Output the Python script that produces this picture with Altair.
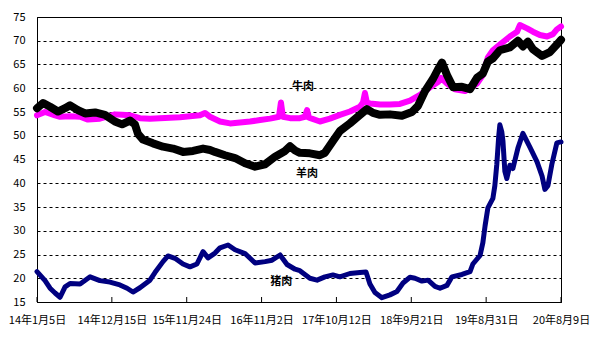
import altair as alt
import pandas as pd

START = pd.Timestamp("2014-01-05")

# day offsets from 2014-01-05 and prices (元/公斤)
beef_days = [0, 37, 83, 106, 152, 198, 234, 289, 358, 391, 427, 473, 519, 565, 657, 749, 772, 795,
             841, 887, 933, 979, 1025, 1071, 1112, 1121, 1130, 1163, 1208, 1231, 1241, 1250, 1300,
             1346, 1392, 1438, 1484, 1498, 1507, 1516, 1530, 1576, 1622, 1668, 1714, 1760, 1806,
             1843, 1856, 1884, 1921, 1967, 1990, 2022, 2049, 2072, 2095, 2127, 2173, 2206, 2219,
             2252, 2279, 2311, 2344, 2371, 2389, 2408]
beef_vals = [54.3, 55.0, 54.3, 54.0, 54.1, 54.0, 53.4, 53.6, 54.5, 54.4, 54.3, 53.7, 53.6, 53.7, 53.9,
             54.3, 54.8, 54.0, 53.0, 52.6, 52.8, 53.0, 53.3, 53.6, 54.0, 57.0, 54.0, 53.7, 53.7, 54.0,
             55.4, 53.8, 53.0, 53.6, 54.4, 55.1, 56.1, 57.0, 59.0, 57.0, 56.8, 56.6, 56.6, 56.7, 57.4,
             58.6, 60.2, 61.3, 62.2, 61.0, 59.8, 59.4, 60.0, 61.0, 62.8, 66.5, 68.0, 69.2, 70.9, 71.9,
             73.3, 72.6, 71.9, 71.2, 70.9, 71.4, 72.4, 73.0]

mutton_days = [0, 28, 60, 96, 129, 152, 188, 221, 267, 312, 358, 391, 427, 450, 464, 487, 533, 579,
               625, 671, 717, 763, 795, 818, 864, 910, 956, 1002, 1048, 1094, 1140, 1163, 1186, 1208,
               1254, 1300, 1323, 1360, 1392, 1438, 1484, 1516, 1544, 1576, 1622, 1677, 1723, 1751,
               1783, 1820, 1843, 1861, 1884, 1912, 1953, 1990, 2022, 2049, 2072, 2095, 2127, 2173,
               2210, 2233, 2256, 2279, 2321, 2357, 2389, 2408]
mutton_vals = [55.8, 56.9, 56.1, 55.1, 55.8, 56.4, 55.4, 54.7, 54.9, 54.4, 53.0, 52.4, 53.2, 52.4, 50.4,
               49.2, 48.4, 47.7, 47.3, 46.6, 46.8, 47.3, 47.0, 46.6, 45.9, 45.3, 44.2, 43.5, 44.0, 45.6,
               46.8, 47.8, 46.9, 46.4, 46.3, 45.9, 46.4, 48.9, 51.0, 52.6, 54.4, 55.6, 54.8, 54.4, 54.5,
               54.2, 55.0, 56.3, 59.4, 62.0, 64.0, 65.4, 62.8, 60.2, 60.3, 59.8, 62.2, 63.1, 65.6, 66.3,
               68.0, 68.6, 70.0, 68.8, 69.8, 68.2, 66.8, 67.6, 69.2, 70.2]

pork_days = [0, 37, 60, 83, 106, 129, 152, 198, 244, 289, 335, 381, 414, 441, 473, 519, 542, 579, 602,
             634, 671, 703, 735, 763, 786, 818, 841, 878, 910, 956, 1002, 1048, 1080, 1117, 1149,
             1186, 1208, 1254, 1287, 1323, 1360, 1392, 1438, 1484, 1512, 1530, 1553, 1585, 1622,
             1654, 1682, 1714, 1737, 1769, 1797, 1829, 1852, 1884, 1907, 1953, 1990, 2003, 2036,
             2049, 2059, 2072, 2095, 2104, 2113, 2122, 2127, 2136, 2141, 2150, 2159, 2173, 2187,
             2210, 2233, 2265, 2298, 2321, 2334, 2348, 2366, 2389, 2408]
pork_vals = [21.4, 19.5, 17.9, 16.9, 16.0, 18.2, 18.9, 18.8, 20.3, 19.5, 19.2, 18.6, 17.9, 17.1, 18.0,
             19.6, 21.2, 23.5, 24.7, 24.2, 23.0, 22.4, 23.0, 25.6, 24.3, 25.3, 26.4, 27.0, 26.0, 25.2,
             23.2, 23.5, 23.8, 24.9, 22.9, 21.9, 21.6, 20.0, 19.6, 20.3, 20.7, 20.3, 21.0, 21.2, 21.3,
             18.8, 17.0, 15.9, 16.5, 17.2, 19.0, 20.2, 20.0, 19.4, 19.6, 18.3, 17.9, 18.5, 20.3, 20.8,
             21.4, 23.0, 24.8, 27.5, 31.0, 34.8, 36.8, 39.5, 44.0, 50.0, 52.3, 50.8, 49.0, 42.5, 41.0,
             43.8, 43.1, 47.4, 50.5, 47.6, 44.5, 41.5, 38.7, 39.5, 44.0, 48.5, 48.7]

tick_dates = [(2014, 1, 5), (2014, 12, 15), (2015, 11, 24), (2016, 11, 2),
              (2017, 10, 12), (2018, 9, 21), (2019, 8, 31), (2020, 8, 9)]
y_ticks = [15, 20, 25, 30, 35, 40, 45, 50, 55, 60, 65, 70, 75]

label_names = ["牛肉", "羊肉", "猪肉"]
label_days = [1222, 1241, 1122]
label_vals = [60.3, 41.95, 19.3]

CJK = "Noto Sans CJK SC"


def frame(days, vals):
    return pd.DataFrame({"date": START + pd.to_timedelta(days, unit="D"), "price": vals})


beef = frame(beef_days, beef_vals)
mutton = frame(mutton_days, mutton_vals)
pork = frame(pork_days, pork_vals)
ticks = pd.DataFrame({"date": [pd.Timestamp(year=y, month=m, day=d) for y, m, d in tick_dates]})
ticks["y0"] = 15.0
ticks["y1"] = 16.05
labels = pd.DataFrame({"date": START + pd.to_timedelta(label_days, unit="D"),
                       "price": label_vals, "name": label_names})

x_scale = alt.Scale(domain=[alt.DateTime(year=2014, month=1, date=5),
                            alt.DateTime(year=2020, month=8, date=9)], nice=False)
y_scale = alt.Scale(domain=[15, 75], nice=False, zero=False)

x_axis = alt.Axis(values=[alt.DateTime(year=y, month=m, date=d) for y, m, d in tick_dates],
                  format="%y年%-m月%-d日", grid=False, ticks=False, tickSize=0,
                  labelPadding=12, labelFont=CJK, labelFontSize=11, labelColor="black",
                  domainColor="black", labelOverlap=False, labelBound=False, labelFlush=False,
                  title=None)
y_axis = alt.Axis(values=y_ticks, grid=True, gridDash=[3, 3], gridColor="black", gridOpacity=1,
                  ticks=False, tickSize=0, labelPadding=12, labelFont=CJK, labelFontSize=11,
                  labelColor="black", domainColor="black", title=None)

x_enc = alt.X("date:T", scale=x_scale, axis=x_axis)
y_enc = alt.Y("price:Q", scale=y_scale, axis=y_axis)

tick_layer = alt.Chart(ticks).mark_rule(color="black", strokeWidth=1).encode(
    x=alt.X("date:T", scale=x_scale, axis=x_axis),
    y=alt.Y("y0:Q", scale=y_scale, axis=y_axis),
    y2="y1:Q",
)


def line(df, color, width):
    return alt.Chart(df).mark_line(color=color, strokeWidth=width, strokeJoin="round",
                                   strokeCap="round").encode(x=x_enc, y=y_enc)


text_layer = alt.Chart(labels).mark_text(font=CJK, fontSize=11, fontWeight="bold",
                                         color="black").encode(x=x_enc, y=y_enc, text="name:N")

chart = alt.layer(
    tick_layer,
    line(beef, "#FF00FF", 6),
    line(mutton, "#000000", 8),
    line(pork, "#000080", 5),
    text_layer,
).properties(
    width=524, height=285,
    autosize=alt.AutoSizeParams(type="none"),
    padding={"left": 29, "top": 9, "right": 43, "bottom": 28},
    background="white",
).configure_view(stroke="black", strokeWidth=1)

chart.save("out.html", embed_options={"renderer": "svg", "actions": False})
